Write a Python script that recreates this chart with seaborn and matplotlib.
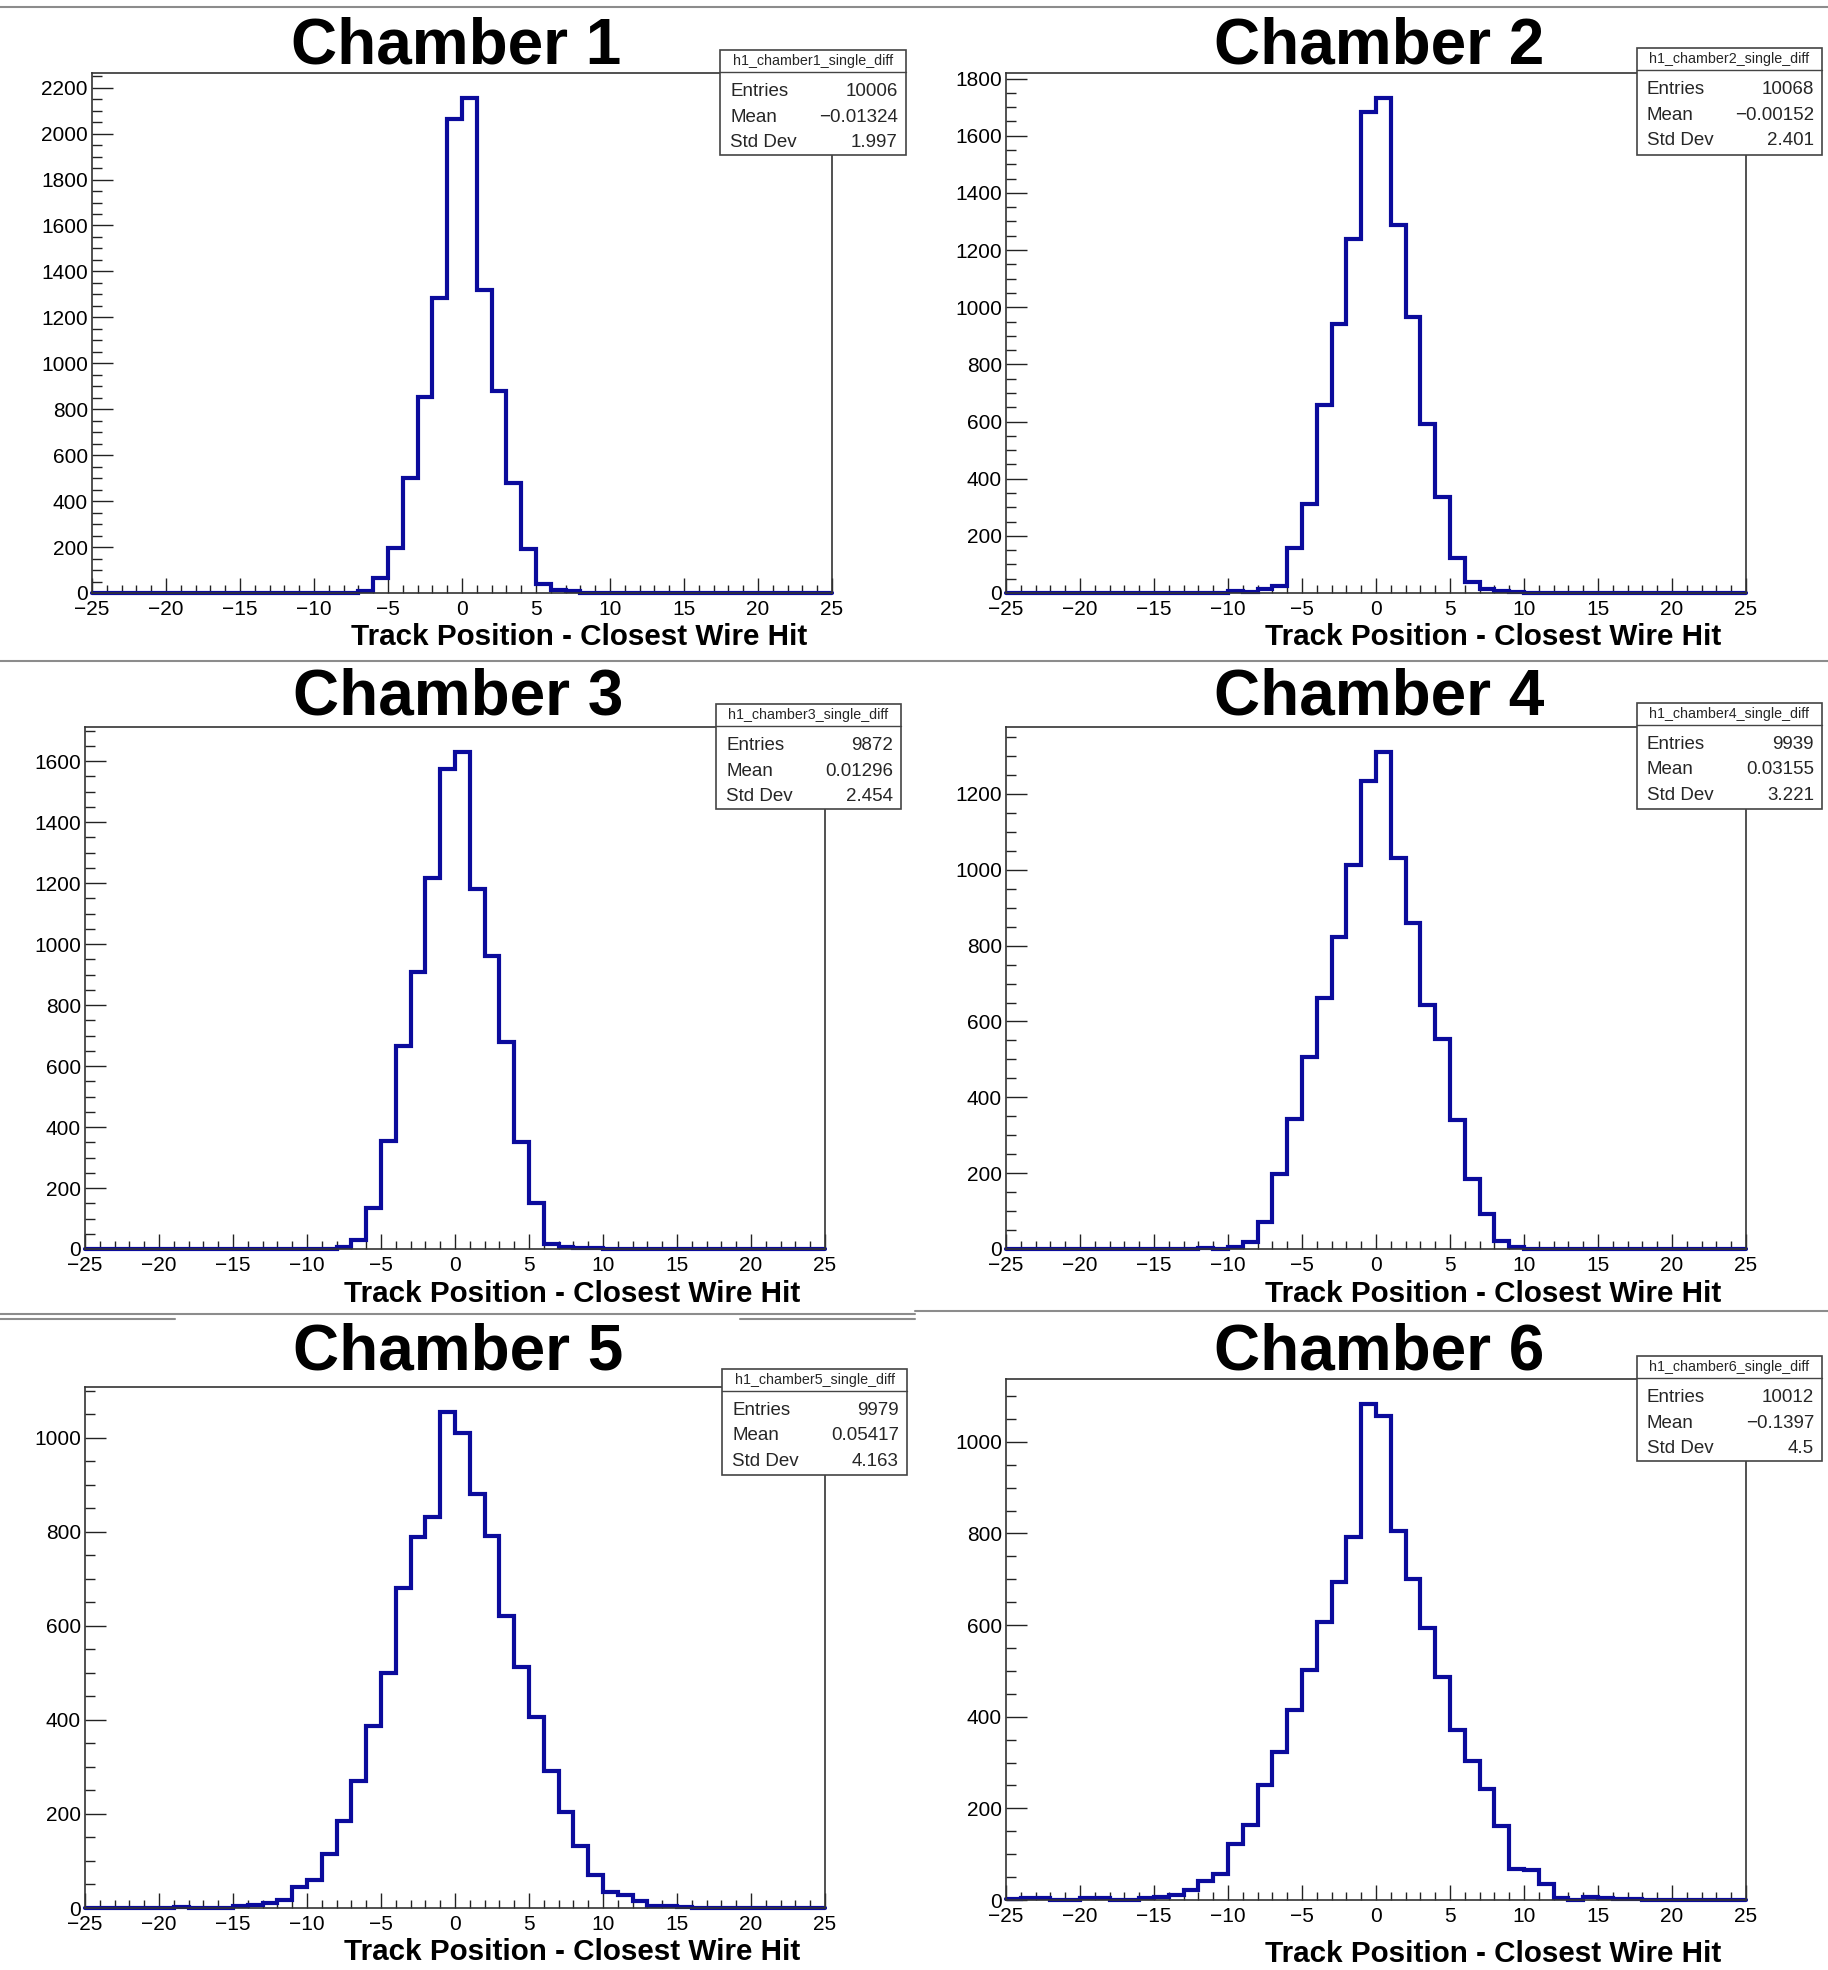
import numpy as np
import pandas as pd
import matplotlib
matplotlib.use("Agg")
import matplotlib.pyplot as plt
import seaborn as sns
from matplotlib.ticker import MultipleLocator
from matplotlib.patches import Rectangle
from matplotlib.lines import Line2D

# ---------------- data ----------------
bin_edges = list(range(-25, 26))
bin_centers = [e + 0.5 for e in range(-25, 25)]

chamber1_counts = [0, 0, 0, 0, 0, 0, 0, 0, 0, 0,
                   0, 0, 0, 0, 0, 0, 0, 1, 10, 64,
                   196, 502, 855, 1285, 2065, 2156, 1321, 881, 477, 190,
                   40, 11, 7, 1, 0, 0, 0, 0, 0, 0,
                   0, 0, 0, 0, 0, 0, 0, 0, 0, 0]
chamber2_counts = [0, 0, 0, 0, 0, 0, 0, 0, 0, 0,
                   0, 0, 0, 0, 0, 7, 3, 15, 25, 159,
                   313, 658, 940, 1238, 1683, 1733, 1288, 966, 590, 335,
                   122, 40, 15, 7, 3, 0, 0, 0, 0, 0,
                   0, 0, 0, 0, 0, 0, 0, 0, 0, 0]
chamber3_counts = [0, 0, 0, 0, 0, 0, 0, 0, 0, 0,
                   0, 0, 0, 0, 0, 0, 0, 8, 29, 133,
                   354, 667, 909, 1217, 1575, 1630, 1181, 962, 678, 350,
                   152, 18, 7, 2, 4, 0, 0, 0, 0, 0,
                   0, 0, 0, 0, 0, 0, 0, 0, 0, 0]
chamber4_counts = [0, 0, 0, 0, 0, 0, 0, 0, 0, 0,
                   0, 0, 0, 3, 1, 4, 19, 72, 199, 343,
                   506, 663, 824, 1013, 1235, 1311, 1031, 860, 644, 554,
                   340, 185, 93, 21, 4, 0, 0, 0, 0, 0,
                   0, 0, 0, 0, 0, 0, 0, 0, 0, 0]
chamber5_counts = [1, 1, 0, 1, 0, 1, 3, 1, 1, 1,
                   4, 6, 11, 18, 44, 60, 114, 186, 270, 387,
                   500, 681, 789, 832, 1055, 1010, 881, 792, 620, 512,
                   406, 291, 204, 131, 70, 33, 28, 15, 4, 4,
                   3, 1, 1, 1, 0, 1, 0, 1, 0, 1]
chamber6_counts = [2, 4, 4, 1, 1, 4, 4, 1, 1, 5,
                   7, 11, 22, 41, 57, 123, 164, 251, 324, 414,
                   501, 607, 693, 793, 1083, 1057, 805, 700, 593, 486,
                   372, 304, 243, 161, 67, 66, 36, 5, 1, 6,
                   5, 3, 3, 1, 1, 1, 1, 1, 1, 1]

titles = ["Chamber 1", "Chamber 2", "Chamber 3", "Chamber 4", "Chamber 5", "Chamber 6"]
hist_names = ["h1_chamber1_single_diff", "h1_chamber2_single_diff", "h1_chamber3_single_diff",
              "h1_chamber4_single_diff", "h1_chamber5_single_diff", "h1_chamber6_single_diff"]
entries = ["10006", "10068", "9872", "9939", "9979", "10012"]
means = ["\u22120.01324", "\u22120.00152", "0.01296", "0.03155", "0.05417", "\u22120.1397"]
stddevs = ["1.997", "2.401", "2.454", "3.221", "4.163", "4.5"]
xlabel_text = "Track Position - Closest Wire Hit"
all_counts = [chamber1_counts, chamber2_counts, chamber3_counts,
              chamber4_counts, chamber5_counts, chamber6_counts]

# ---------------- layout (pixels) ----------------
W, H, DPI = 1828, 1970, 100
# axes: left, right, top, bottom
axes_px = [(92, 832, 73, 593), (1006, 1746, 73, 593),
           (85, 825, 727, 1249), (1006, 1746, 727, 1249),
           (85, 825, 1387, 1908), (1006, 1746, 1379, 1900)]
title_px = [(456, 63), (1379, 63), (458, 715), (1379, 715), (458, 1369), (1379, 1369)]
xlab_base = [645, 645, 1302, 1302, 1960, 1962]
stats_px = [(720, 906, 50, 155), (1637, 1822, 48, 155),
            (716, 901, 704, 809), (1637, 1822, 703, 809),
            (722, 907, 1369, 1475), (1637, 1822, 1356, 1461)]

sns.set_theme(style="white")
plt.rcParams['font.family'] = ['Liberation Sans', 'DejaVu Sans']
plt.rcParams['axes.unicode_minus'] = True

fig = plt.figure(figsize=(W / DPI, H / DPI), dpi=DPI)
fig.patch.set_facecolor("white")


def fx(x):
    return x / W


def fy(y):
    return 1 - y / H


line_color = "#0b0b9c"

for i in range(6):
    L, R, T, B = axes_px[i]
    ax = fig.add_axes([fx(L), fy(B), (R - L) / W, (B - T) / H])
    df = pd.DataFrame({"x": bin_centers, "w": all_counts[i]})
    sns.histplot(data=df, x="x", weights="w", bins=bin_edges, element="step",
                 fill=False, color=line_color, linewidth=3.0, ax=ax)
    for ln in ax.lines:
        ln.set_clip_on(False)
        ln.set_solid_joinstyle("miter")
    ax.set_xlim(-25, 25)
    ax.set_ylim(0, max(all_counts[i]) * 1.05)
    ax.set_xlabel("")
    ax.set_ylabel("")
    ax.xaxis.set_major_locator(MultipleLocator(5))
    ax.xaxis.set_minor_locator(MultipleLocator(1))
    ax.yaxis.set_major_locator(MultipleLocator(200))
    ax.yaxis.set_minor_locator(MultipleLocator(50))
    ax.tick_params(axis="both", which="both", direction="in", color="#222222",
                   width=1.0, labelsize=15, labelcolor="black",
                   bottom=True, left=True, top=False, right=False)
    ax.tick_params(axis="y", which="major", length=15, pad=3)
    ax.tick_params(axis="y", which="minor", length=7.5)
    ax.tick_params(axis="x", which="major", length=11, pad=5)
    ax.tick_params(axis="x", which="minor", length=5.5)
    for s in ax.spines.values():
        s.set_color("#333333")
        s.set_linewidth(1.2)
    ax.set_facecolor("white")

    # title
    tx, ty = title_px[i]
    fig.text(fx(tx), fy(ty), titles[i], ha="center", va="baseline",
             fontsize=46, fontweight="bold", color="black")
    # x label
    fig.text(fx(R - 25), fy(xlab_base[i]), xlabel_text, ha="right", va="baseline",
             fontsize=21.3, fontweight="bold", color="black")

    # stats box
    sL, sR, sT, sB = stats_px[i]
    fig.add_artist(Rectangle((fx(sL), fy(sB)), (sR - sL) / W, (sB - sT) / H,
                             transform=fig.transFigure, facecolor="white",
                             edgecolor="#444444", linewidth=1.2, zorder=5))
    fig.add_artist(Line2D([fx(sL), fx(sR)], [fy(sT + 22), fy(sT + 22)],
                          transform=fig.transFigure, color="#444444",
                          linewidth=1.0, zorder=6))
    fig.text(fx((sL + sR) / 2), fy(sT + 11), hist_names[i], ha="center",
             va="center", fontsize=10.3, zorder=7)
    rows = [("Entries", entries[i]), ("Mean", means[i]), ("Std Dev", stddevs[i])]
    for k, (lab, val) in enumerate(rows):
        yb = sT + 46 + 25.5 * k
        fig.text(fx(sL + 10), fy(yb), lab, ha="left", va="baseline",
                 fontsize=13.5, zorder=7)
        fig.text(fx(sR - 8), fy(yb), val, ha="right", va="baseline",
                 fontsize=13.5, zorder=7)

# panel separator lines
sep_col = "#8c8c8c"
for (x0, x1, y) in [(0, W, 7), (0, W, 661), (0, 915, 1314), (915, W, 1311),
                    (0, 175, 1319), (740, 915, 1319)]:
    fig.add_artist(Line2D([fx(x0), fx(x1)], [fy(y), fy(y)], transform=fig.transFigure,
                          color=sep_col, linewidth=1.5, zorder=0))

fig.savefig("out.png", dpi=DPI, facecolor="white")
